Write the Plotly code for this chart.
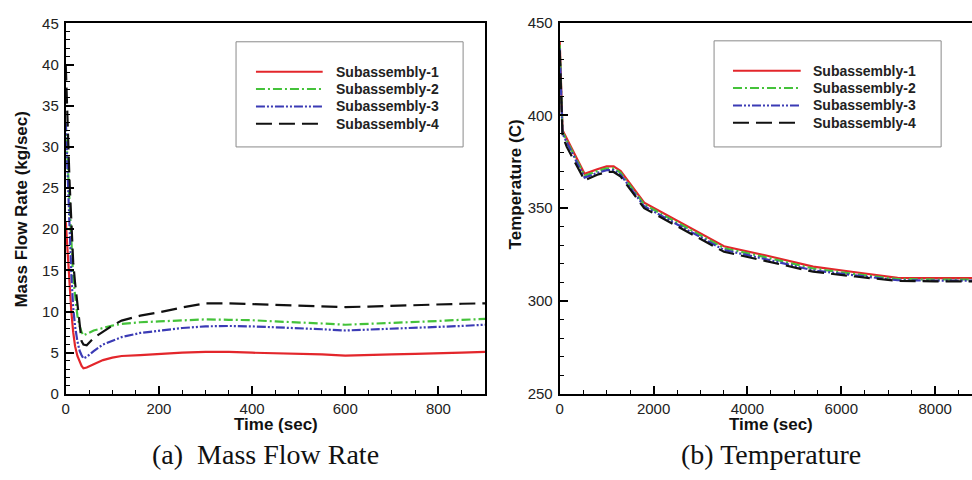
import plotly.graph_objects as go

W, H = 972, 480

# ---------------- data: (a) Mass flow rate ----------------
time_a = [0, 4, 8, 12, 16, 20, 25, 30, 34, 38, 45, 60, 80, 100, 120, 160, 200, 250,
          300, 350, 400, 450, 500, 550, 600, 650, 700, 750, 800, 850, 900]
flow_sub1 = [21, 17, 13, 10, 7.5, 5.8, 4.6, 3.8, 3.4, 3.1, 3.2, 3.6, 4.1, 4.4, 4.6, 4.7, 4.85, 5.0,
             5.1, 5.1, 5.0, 4.95, 4.9, 4.8, 4.65, 4.75, 4.8, 4.85, 4.9, 5.0, 5.1]
flow_sub2 = [33, 28, 22, 17, 14, 12, 9.5, 8.2, 7.5, 7.1, 7.3, 7.7, 8.0, 8.3, 8.5, 8.7, 8.8, 8.95,
             9.05, 9.0, 8.95, 8.8, 8.7, 8.55, 8.4, 8.5, 8.6, 8.75, 8.85, 9.0, 9.1]
flow_sub3 = [33, 27, 20, 14.5, 10.5, 8.2, 6.4, 5.2, 4.7, 4.3, 4.5, 5.2, 6.0, 6.5, 6.9, 7.4, 7.7, 8.0,
             8.2, 8.25, 8.2, 8.1, 8.0, 7.85, 7.7, 7.8, 7.9, 8.0, 8.1, 8.25, 8.4]
flow_sub4 = [40, 32, 26, 21, 16, 13.5, 11, 8, 6.4, 6.0, 5.9, 6.8, 7.6, 8.3, 8.9, 9.5, 9.9, 10.5,
             11.0, 11.0, 10.9, 10.8, 10.7, 10.6, 10.55, 10.6, 10.7, 10.8, 10.9, 10.95, 11.0]

# ---------------- data: (b) Temperature ----------------
time_b = [0, 60, 150, 300, 530, 800, 1000, 1150, 1300, 1800, 2600, 3500, 4400, 5400, 6300, 7200, 8000, 8800]
temp_sub1 = [440, 392, 387.5, 380, 368.5, 371, 372.5, 372.5, 370, 353, 342, 329.5, 324.5, 318.5, 315.5, 312.5, 312.3, 312.3]
temp_sub2 = [438, 391, 386.5, 379, 367.5, 370, 371.5, 371.5, 369, 352, 341, 328.5, 323.5, 317.5, 314.5, 311.8, 311.6, 311.6]
temp_sub3 = [436, 390, 385.5, 378, 366.5, 369, 370.5, 370.5, 368, 351, 340, 327.5, 322.5, 316.5, 313.8, 311.2, 311.0, 311.0]
temp_sub4 = [435, 389, 383, 376, 365, 368, 369.5, 369.5, 367, 350, 339, 326.5, 321.5, 315.8, 313.2, 310.8, 310.6, 310.6]

names = ["Subassembly-1", "Subassembly-2", "Subassembly-3", "Subassembly-4"]
colors = ["#e3262b", "#44c23a", "#3b3bb5", "#111111"]
dashes = ["solid", "9px,3px,2px,3px", "9px,2px,2px,2px,2px,2px", "16px,7px"]

x_ticks_a = [0, 200, 400, 600, 800]
y_ticks_a = [0, 5, 10, 15, 20, 25, 30, 35, 40, 45]
x_ticks_b = [0, 2000, 4000, 6000, 8000]
y_ticks_b = [250, 300, 350, 400, 450]

fig = go.Figure()
for name, ys, c, d in zip(names, [flow_sub1, flow_sub2, flow_sub3, flow_sub4], colors, dashes):
    fig.add_trace(go.Scatter(x=time_a, y=ys, mode="lines", name=name, showlegend=False,
                             line=dict(color=c, width=2.2, dash=d), xaxis="x", yaxis="y"))
for name, ys, c, d in zip(names, [temp_sub1, temp_sub2, temp_sub3, temp_sub4], colors, dashes):
    fig.add_trace(go.Scatter(x=time_b, y=ys, mode="lines", name=name, showlegend=False,
                             line=dict(color=c, width=2.2, dash=d), xaxis="x2", yaxis="y2"))

tickfont = dict(family="Liberation Sans, Arial", size=15, color="#222")
common = dict(showgrid=False, zeroline=False, showline=True, linecolor="black", linewidth=2,
              ticks="inside", ticklen=8, tickwidth=2, tickcolor="black", tickfont=tickfont)

px = lambda v: v / W
py = lambda v: 1 - v / H

fig.update_layout(
    width=W, height=H, margin=dict(l=0, r=0, t=0, b=0),
    paper_bgcolor="white", plot_bgcolor="white",
    xaxis=dict(domain=[px(62), px(483)], range=[0, 900], tickvals=x_ticks_a, mirror=True,
               minor=dict(dtick=50, ticks="inside", ticklen=4, tickwidth=1, tickcolor="black"),
               anchor="y", **common),
    yaxis=dict(domain=[py(399), py(15)], range=[0, 45], tickvals=y_ticks_a, mirror=True,
               ticklabelstandoff=2,
               minor=dict(dtick=1, ticks="inside", ticklen=4, tickwidth=1, tickcolor="black"),
               anchor="x", **common),
    xaxis2=dict(domain=[px(558), 1.0], range=[0, 8785], tickvals=x_ticks_b, mirror=True,
                minor=dict(dtick=500, ticks="inside", ticklen=4, tickwidth=1, tickcolor="black"),
                anchor="y2", **common),
    yaxis2=dict(domain=[py(399), py(14)], range=[250, 450], tickvals=y_ticks_b, mirror=False,
                ticklabelstandoff=2,
                minor=dict(dtick=10, ticks="inside", ticklen=4, tickwidth=1, tickcolor="black"),
                anchor="x2", **common),
)

shapes = []
annotations = []

# legends drawn as boxed keys
def add_legend(box, line_x0, line_x1, text_x, rows_y):
    x0, y0, x1, y1 = box
    shapes.append(dict(type="rect", xref="paper", yref="paper", x0=px(x0), x1=px(x1),
                       y0=py(y1), y1=py(y0), line=dict(color="#8a8a8a", width=1),
                       fillcolor="white", layer="above"))
    for name, c, d, ry in zip(names, colors, dashes, rows_y):
        shapes.append(dict(type="line", xref="paper", yref="paper", x0=px(line_x0), x1=px(line_x1),
                           y0=py(ry), y1=py(ry), line=dict(color=c, width=2, dash=d), layer="above"))
        annotations.append(dict(text="<b>" + name + "</b>", xref="paper", yref="paper", x=px(text_x), y=py(ry),
                                xanchor="left", yanchor="middle", showarrow=False,
                                font=dict(family="Liberation Sans, Arial", size=14, color="#222")))

add_legend((233, 34, 461, 143), 253, 320, 331, [65, 83, 101, 119])
add_legend((713, 33, 941, 143), 732, 800, 810, [64, 82, 100, 118])

bold = dict(family="Liberation Sans, Arial", size=17, color="#111")
annotations += [
    dict(text="<b>Time (sec)</b>", xref="paper", yref="paper", x=px(273), y=py(431),
         xanchor="center", yanchor="middle", showarrow=False, font=bold),
    dict(text="<b>Time (sec)</b>", xref="paper", yref="paper", x=px(770), y=py(431),
         xanchor="center", yanchor="middle", showarrow=False, font=bold),
    dict(text="<b>Mass Flow Rate (kg/sec)</b>", xref="paper", yref="paper", x=px(18), y=py(207),
         xanchor="center", yanchor="middle", textangle=-90, showarrow=False, font=bold),
    dict(text="<b>Temperature (C)</b>", xref="paper", yref="paper", x=px(514), y=py(182),
         xanchor="center", yanchor="middle", textangle=-90, showarrow=False, font=bold),
    dict(text="(a)\u00a0 Mass Flow Rate", xref="paper", yref="paper", x=px(263), y=py(462),
         xanchor="center", yanchor="middle", showarrow=False,
         font=dict(family="Liberation Serif, Times New Roman", size=28, color="#111")),
    dict(text="(b) Temperature", xref="paper", yref="paper", x=px(770), y=py(462),
         xanchor="center", yanchor="middle", showarrow=False,
         font=dict(family="Liberation Serif, Times New Roman", size=28, color="#111")),
]

fig.update_layout(shapes=shapes, annotations=annotations)
fig.write_html("out.html")
